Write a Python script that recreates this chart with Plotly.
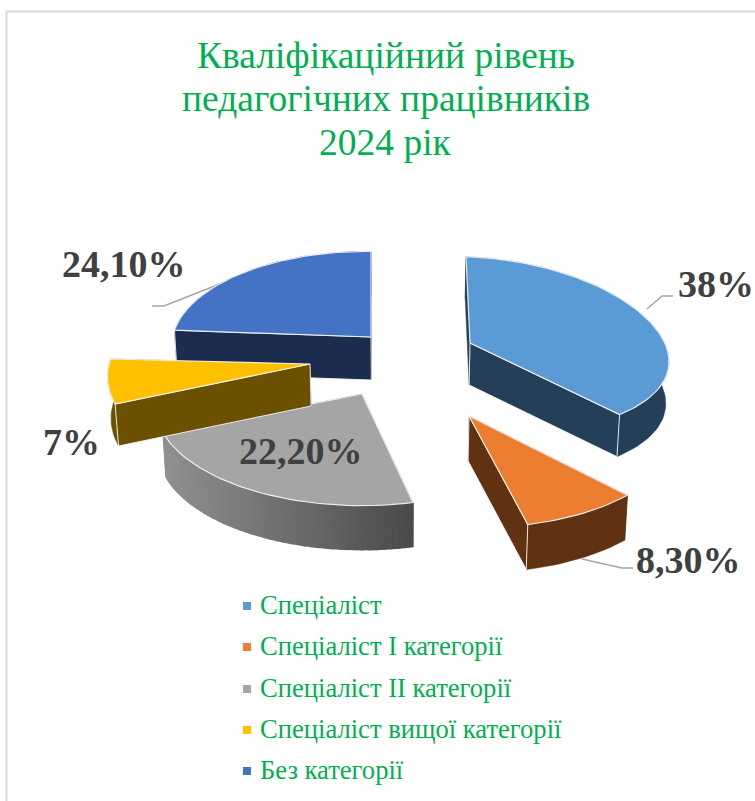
import math
import plotly.graph_objects as go

# ---- data -----------------------------------------------------------------
categories = ["Спеціаліст", "Спеціаліст I категорії", "Спеціаліст II категорії",
              "Спеціаліст вищої категорії", "Без категорії"]
shares = [38.0, 8.3, 22.2, 7.0, 24.1]
value_labels = ["38%", "8,30%", "22,20%", "7%", "24,10%"]
title_lines = ["Кваліфікаційний рівень", "педагогічних працівників", "2024 рік"]

# ---- style / layout -------------------------------------------------------
W, H = 755, 801
GREEN = "#00B050"
TOP = ["#5B9BD5", "#ED7D31", "#A5A5A5", "#FFC000", "#4472C4"]
WALL = ["#243F57", "#613212", "#4B4B4B", "#6B5000", "#1B2C4F"]
SERIF = "Liberation Serif, Times New Roman, serif"
APEX = [(470, 343), (469, 416), (362, 394), (310, 364), (371, 337)]
# per-slice projection: x scale, y scale, y perspective, shear, skew
VIEW = [(197, 89, 0.034, 0.03, 4),
        (205, 98, 0.122, 0.0, 8),
        (205, 98, 0.122, 0.0, 0),
        (201, 100, 0.122, 0.0, 0),
        (198, 96, 0.122, 0.01, 0)]
X_PERSP = 0.122
DEPTHS = [42, 45, 44, 42, 43]
DRAW_ORDER = [4, 0, 2, 3, 1]
EDGE = "rgba(245,247,250,0.9)"
LABEL_POS = [(716, 284), (688, 560), (301, 451), (71.5, 442), (124, 264)]
LEADERS = [
    ([647, 662, 673], [309, 296, 296]),
    ([582, 622, 633], [559, 568, 568]),
    ([245, 164, 152], [274, 306, 306]),
]
LEGEND_Y = [606, 647, 689, 730, 771]
TITLE_Y = [55, 98, 142]

fig = go.Figure()


def poly(xs, ys, fill, line=None, lw=1.0):
    fig.add_trace(go.Scatter(
        x=xs, y=ys, mode="lines", fill="toself", fillcolor=fill,
        line=dict(color=line or fill, width=lw),
        hoverinfo="skip", showlegend=False))


def top_pt(i, r, theta):
    ax, ay = APEX[i]
    a, b, ky, shear, skew = VIEW[i]
    X, Y = r * math.sin(theta), r * math.cos(theta)
    dx = a * X / (1 + X_PERSP * Y) - skew * Y
    return ax + dx, ay - b * Y / (1 + ky * Y) + shear * dx


def bottom(p, i):
    return 400 + (p[0] - 400) * 0.988, p[1] + DEPTHS[i]


def lerp_hex(c1, c2, t):
    a = [int(c1[k:k + 2], 16) for k in (1, 3, 5)]
    b = [int(c2[k:k + 2], 16) for k in (1, 3, 5)]
    return "#" + "".join(f"{round(u + (v - u) * t):02x}" for u, v in zip(a, b))


# leader lines go underneath the slices
for lx, ly in LEADERS:
    fig.add_trace(go.Scatter(x=lx, y=ly, mode="lines", hoverinfo="skip", showlegend=False,
                             line=dict(color="#A6A6A6", width=1.5)))

total = sum(shares)
starts, run = [], 0.0
for v in shares:
    starts.append(run)
    run += v / total * 2 * math.pi

for i in DRAW_ORDER:
    a0 = starts[i]
    a1 = a0 + shares[i] / total * 2 * math.pi
    n = max(16, int(shares[i] * 2))
    arc = [top_pt(i, 1, a0 + (a1 - a0) * k / n) for k in range(n + 1)]
    apex = top_pt(i, 0, 0)
    walls = [(arc[0], math.sin(a0) < -1e-9), (arc[-1], math.sin(a1) > 1e-9)]
    # cut walls turned away from the viewer first, without an edge
    for end, visible in walls:
        if not visible:
            q = [apex, end, bottom(end, i), bottom(apex, i), apex]
            poly([p[0] for p in q], [p[1] for p in q], WALL[i], None, 0.5)
    # outer wall
    if i == 2:
        xmin = min(p[0] for p in arc)
        xmax = max(p[0] for p in arc)
        for k in range(n):
            q = [arc[k], arc[k + 1], bottom(arc[k + 1], i), bottom(arc[k], i), arc[k]]
            t = ((arc[k][0] + arc[k + 1][0]) / 2 - xmin) / (xmax - xmin)
            poly([p[0] for p in q], [p[1] for p in q], lerp_hex("#909090", "#4A4A4A", t), None, 1.6)
    else:
        q = arc + [bottom(p, i) for p in reversed(arc)] + [arc[0]]
        poly([p[0] for p in q], [p[1] for p in q], WALL[i], None, 0.5)
    # cut walls facing the viewer
    for end, visible in walls:
        if visible:
            q = [apex, end, bottom(end, i), bottom(apex, i), apex]
            poly([p[0] for p in q], [p[1] for p in q], WALL[i], EDGE, 1)
    # top face
    q = [apex] + arc + [apex]
    poly([p[0] for p in q], [p[1] for p in q], TOP[i], EDGE, 1.2)

# chart frame
fig.add_trace(go.Scatter(x=[6.5, 6.5, W], y=[H, 11.5, 11.5], mode="lines", hoverinfo="skip",
                         showlegend=False, line=dict(color="#D9D9D9", width=2)))

# key
for i, name in enumerate(categories):
    fig.add_trace(go.Scatter(x=[247], y=[LEGEND_Y[i]], mode="markers", hoverinfo="skip",
                             showlegend=False, name=name,
                             marker=dict(symbol="square", size=8, color=TOP[i])))
    fig.add_annotation(x=258, y=LEGEND_Y[i] - 1, text=name, showarrow=False, xanchor="left",
                       yanchor="middle", font=dict(family=SERIF, size=26.6, color=GREEN))

# value labels
for txt, (x, y) in zip(value_labels, LABEL_POS):
    fig.add_annotation(x=x, y=y, text=f"<b>{txt}</b>", showarrow=False,
                       font=dict(family=SERIF, size=38, color="#404040"))

# title
for line, y in zip(title_lines, TITLE_Y):
    fig.add_annotation(x=385.5, y=y, text=line, showarrow=False,
                       font=dict(family=SERIF, size=37.5, color=GREEN))

fig.update_layout(
    width=W, height=H, margin=dict(l=0, r=0, t=0, b=0),
    paper_bgcolor="white", plot_bgcolor="white", showlegend=False,
    xaxis=dict(visible=False, range=[0, W], fixedrange=True),
    yaxis=dict(visible=False, range=[H, 0], fixedrange=True),
)
fig.write_html("out.html", config={"displayModeBar": False},
               post_script="document.body.style.margin='0';document.documentElement.style.overflow='hidden';")
